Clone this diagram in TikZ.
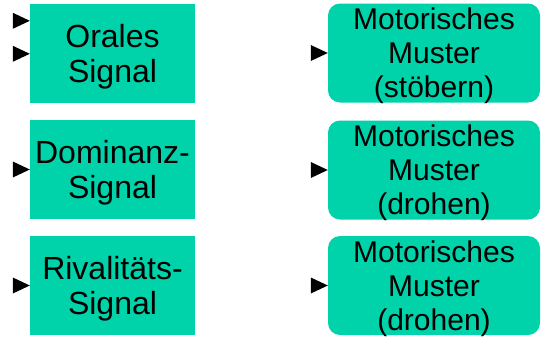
\documentclass[tikz,border=0pt]{standalone}
\usepackage{fontspec}
\setmainfont{Liberation Sans}
\usetikzlibrary{calc}
\definecolor{boxgreen}{RGB}{0,211,170}
\tikzset{
  signalbox/.style={fill=boxgreen, draw=none, inner sep=0pt,
    minimum width=165pt, minimum height=99pt},
  musterbox/.style={fill=boxgreen, draw=none, inner sep=0pt, rounded corners=12pt,
    minimum width=212pt, minimum height=99pt},
  signaltext/.style={inner sep=0pt, align=center,
    font=\fontsize{32}{35}\selectfont},
  mustertext/.style={inner sep=0pt, align=center,
    font=\fontsize{30}{34}\selectfont},
  pics/intip/.style={code={\fill[black] (0,0) -- (-17,-8) -- (-17,8) -- cycle;}}
}
\begin{document}
\begin{tikzpicture}[x=1pt, y=-1pt]
  \useasboundingbox (0,0) rectangle (541,340);

  % input signals (left column)
  \node[signalbox] (oral) at (112.5,53.5) {};
  \node[signalbox] (dom)  at (112.5,169.5) {};
  \node[signalbox] (riv)  at (112.5,285.5) {};
  \node[signaltext] (oralT) at ([yshift=-3pt]oral.center) {Orales\\Signal};
  \node[signaltext] (domT)  at ([yshift=-3pt]dom.center) {Dominanz-\\Signal};
  \node[signaltext] (rivT)  at ([yshift=-3pt]riv.center) {Rivalitäts-\\Signal};

  % motor patterns (right column)
  \node[musterbox] (mstoeb) at (434,53) {};
  \node[musterbox] (mdro1)  at (434,170) {};
  \node[musterbox] (mdro2)  at (434,285.5) {};
  \node[mustertext] (mstoebT) at ([yshift=-3pt]mstoeb.center) {Motorisches\\Muster\\(stöbern)};
  \node[mustertext] (mdro1T)  at ([yshift=-3pt]mdro1.center) {Motorisches\\Muster\\(drohen)};
  \node[mustertext] (mdro2T)  at ([yshift=-3pt]mdro2.center) {Motorisches\\Muster\\(drohen)};

  % input arrowheads
  \pic at ($(oral.north west)+(0,17)$) {intip};
  \pic at ($(oral.north west)+(0,50)$) {intip};
  \pic at (dom.west) {intip};
  \pic at (riv.west) {intip};
  \pic at (mstoeb.west) {intip};
  \pic at (mdro1.west) {intip};
  \pic at (mdro2.west) {intip};
\end{tikzpicture}
\end{document}
